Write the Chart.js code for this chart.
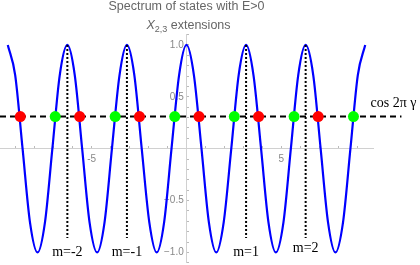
<!DOCTYPE html>
<html><head><meta charset="utf-8">
<script src="https://cdn.jsdelivr.net/npm/chart.js@4/dist/chart.umd.min.js"></script>
<style>html,body{margin:0;padding:0;background:#fff}#wrap{width:420px;height:265px}</style>
</head><body><div id="wrap"><canvas id="c" width="420" height="265"></canvas></div>
<script>
// curve samples (period ~ pi, peaks at multiples of pi)
const curveX = [-9.42,-9.03,-8.64,-8.25,-7.85,-7.46,-7.07,-6.68,-6.28,-5.89,-5.50,-5.11,-4.71,-4.32,-3.93,-3.53,-3.14,-2.75,-2.36,-1.96,-1.57,-1.18,-0.79,-0.39,0,
  0.39,0.79,1.18,1.57,1.96,2.36,2.75,3.14,3.53,3.93,4.32,4.71,5.11,5.50,5.89,6.28,6.68,7.07,7.46,7.85,8.25,8.64,9.03,9.42];
const curveY = [1,0.71,0,-0.71,-1,-0.71,0,0.71,1,0.71,0,-0.71,-1,-0.71,0,0.71,1,0.71,0,-0.71,-1,-0.71,0,0.71,1,
  0.71,0,-0.71,-1,-0.71,0,0.71,1,0.71,0,-0.71,-1,-0.71,0,0.71,1,0.71,0,-0.71,-1,-0.71,0,0.71,1];
const levelY = 0.31;               // cos 2πγ
const levelXRange = [-9.83, 11.33];
const redX = [-8.76,-5.63,-2.48,0.66,3.80,6.94];
const greenX = [-6.92,-3.76,-0.62,2.52,5.67,8.80];
const mLabels = ["m=-2","m=-1","m=1","m=2"];
const mLineX = [-6.28,-3.14,3.14,6.28];
const mLineTop = [1,1,1,1];
const mLineBottom = [-0.86,-0.86,-0.86,-0.86];
const mLabelY = [-1.0,-1.0,-1.0,-0.96];
const xTickLabels = [-5,5];
const yTickLabels = [-1.0,-0.5,0.5,1.0];
const titleLine1 = "Spectrum of states with E>0";
const levelLabel = "cos 2\u03C0 \u03B3";

const datasets = [];
datasets.push({data: curveX.map((x,i)=>({x, y: curveY[i]})), showLine:true, borderColor:'#0000ff', borderWidth:2.2,
  pointRadius:0, cubicInterpolationMode:'monotone', order:5});
mLineX.forEach((x,i)=>{
  datasets.push({data:[{x, y:mLineTop[i]},{x, y:mLineBottom[i]}], showLine:true, borderColor:'#000', borderWidth:2,
    borderDash:[2,2], pointRadius:0, order:4});
});
datasets.push({data:[{x:levelXRange[0],y:levelY},{x:levelXRange[1],y:levelY}], showLine:true, borderColor:'#000',
  borderWidth:2, borderDash:[6,4], pointRadius:0, clip:false, order:3});
datasets.push({data: redX.map(x=>({x,y:levelY})), showLine:false, pointRadius:5.5, pointBackgroundColor:'#ff0000',
  pointBorderWidth:0, order:1});
datasets.push({data: greenX.map(x=>({x,y:levelY})), showLine:false, pointRadius:5.5, pointBackgroundColor:'#00ff00',
  pointBorderWidth:0, order:1});

const textPlugin = {
  id:'texts',
  afterDraw(chart){
    const ctx = chart.ctx, xs = chart.scales.x, ys = chart.scales.y;
    ctx.save();
    ctx.fillStyle = '#666';
    ctx.textBaseline = 'alphabetic';
    ctx.textAlign = 'center';
    ctx.font = '12.5px "Liberation Sans", Arial, sans-serif';
    const cx = xs.getPixelForValue(0);
    ctx.fillText(titleLine1, cx, 10);
    const f1 = 'italic 12.5px "Liberation Sans", Arial, sans-serif';
    const f2 = '9px "Liberation Sans", Arial, sans-serif';
    const f3 = '12.5px "Liberation Sans", Arial, sans-serif';
    ctx.textAlign = 'left';
    ctx.font = f1; const w1 = ctx.measureText('X').width;
    ctx.font = f2; const w2 = ctx.measureText('2,3').width;
    ctx.font = f3; const w3 = ctx.measureText(' extensions').width;
    let x0 = cx + 2 - (w1+w2+w3)/2;
    ctx.font = f1; ctx.fillText('X', x0, 29); x0 += w1;
    ctx.font = f2; ctx.fillText('2,3', x0, 32); x0 += w2;
    ctx.font = f3; ctx.fillText(' extensions', x0, 29);
    ctx.fillStyle = '#000';
    ctx.font = '14px "Liberation Serif", "Times New Roman", serif';
    ctx.textAlign = 'center'; ctx.textBaseline = 'middle';
    mLabels.forEach((t,i)=>ctx.fillText(t, xs.getPixelForValue(mLineX[i]), ys.getPixelForValue(mLabelY[i])));
    ctx.textAlign = 'left';
    ctx.fillText(levelLabel, xs.getPixelForValue(9.7), ys.getPixelForValue(levelY + 0.13));
    ctx.restore();
  }
};
const zeroPad = (s)=>{ s.paddingLeft = 0; s.paddingRight = 0; s.paddingTop = 0; s.paddingBottom = 0; };

new Chart(document.getElementById('c'), {
  type:'scatter',
  data:{datasets},
  options:{
    responsive:false, animation:false, devicePixelRatio:1,
    layout:{autoPadding:false, padding:{left:0, right:47, top:34.6, bottom:2.2}},
    plugins:{legend:{display:false}, tooltip:{enabled:false}},
    scales:{
      x:{type:'linear', min:-9.83, max:9.83, position:{y:0}, afterFit: zeroPad,
        border:{color:'#d0d0d0', width:1},
        grid:{drawOnChartArea:false, drawTicks:true, tickLength:-3, color:'#bbb'},
        ticks:{stepSize:1, autoSkip:false, includeBounds:false, maxRotation:0, color:'#888', padding:8,
          font:{family:'"Liberation Sans", Arial, sans-serif', size:10},
          callback:(v)=> xTickLabels.includes(Math.round(v)) && Math.abs(v-Math.round(v))<1e-6 ? String(Math.round(v)) : ''}},
      y:{type:'linear', min:-1.1, max:1.1, position:{x:0}, afterFit: zeroPad,
        border:{color:'#d0d0d0', width:1},
        grid:{drawOnChartArea:false, drawTicks:true, tickLength:-3, color:'#bbb'},
        ticks:{stepSize:0.1, autoSkip:false, includeBounds:false, color:'#888', padding:2,
          font:{family:'"Liberation Sans", Arial, sans-serif', size:10},
          callback:(v)=>{const r=Math.round(v*10)/10; return yTickLabels.some(t=>Math.abs(t-r)<1e-6) ? (r<0?'\u2212':'')+Math.abs(r).toFixed(1)+' ' : '';}}}
    }
  },
  plugins:[textPlugin]
});
</script></body></html>
